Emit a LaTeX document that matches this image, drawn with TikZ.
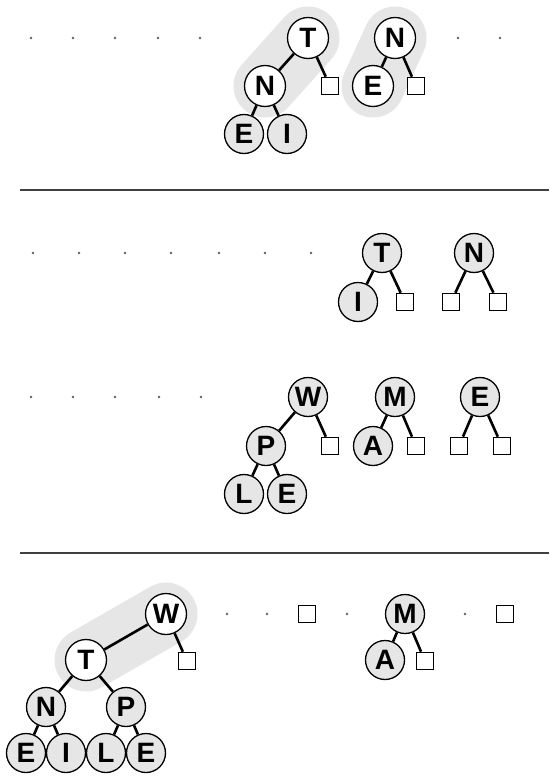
\documentclass[tikz,border=0pt]{standalone}
\usepackage{fontspec}
\setmainfont{Liberation Sans}
\usetikzlibrary{backgrounds}
\definecolor{halogray}{HTML}{E6E6E6}
\definecolor{rulegray}{HTML}{404040}
\definecolor{dotgray}{HTML}{606060}
\tikzset{
  wkey/.style={circle, draw, line width=1.3pt, fill=white, minimum size=41pt, inner sep=0pt,
    font=\fontsize{28}{28}\selectfont\bfseries},
  gkey/.style={wkey, fill=halogray, minimum size=39pt},
  leaf/.style={rectangle, draw, line width=1.6pt, fill=white, minimum size=17pt, inner sep=0pt},
  link/.style={line width=2.6pt},
  halo/.style={line width=63pt, line cap=round, halogray},
  sep/.style={line width=2pt, rulegray},
}

\begin{document}
\begin{tikzpicture}[x=1pt, y=-1pt]
  \useasboundingbox (0,0) rectangle (549,776);

  % first row
  \foreach \x in {31,73,115,158,200,458,500}
    \fill[dotgray] (\x,38) circle (1.3pt);
  \node[wkey] (Ta) at (308,38) {T};
  \node[wkey] (Na) at (265,86) {N};
  \node[gkey] (Ea) at (244,134) {E};
  \node[gkey] (Ia) at (287,134) {I};
  \node[leaf] (xa) at (330,86) {};
  \node[wkey] (Nb) at (395,38) {N};
  \node[wkey] (Eb) at (373,86) {E};
  \node[leaf] (xb) at (416,86) {};
  \draw[link] (Ta) -- (Na);
  \draw[link] (Ta) -- (xa);
  \draw[link] (Na) -- (Ea);
  \draw[link] (Na) -- (Ia);
  \draw[link] (Nb) -- (Eb);
  \draw[link] (Nb) -- (xb);
  \begin{scope}[on background layer]
    \draw[halo] (Ta.center) -- (Na.center);
    \draw[halo] (Nb.center) -- (Eb.center);
  \end{scope}

  \draw[sep] (20,190) -- (549,190);

  % second row
  \foreach \x in {33,79,125,171,219,265,311}
    \fill[dotgray] (\x,253) circle (1.3pt);
  \node[gkey] (Tc) at (382,253) {T};
  \node[gkey] (Ic) at (358,302) {I};
  \node[leaf] (xc) at (405,302) {};
  \node[gkey] (Nd) at (474,253) {N};
  \node[leaf] (xd1) at (451,302) {};
  \node[leaf] (xd2) at (498,302) {};
  \draw[link] (Tc) -- (Ic);
  \draw[link] (Tc) -- (xc);
  \draw[link] (Nd) -- (xd1);
  \draw[link] (Nd) -- (xd2);

  % third row
  \foreach \x in {31,73,115,159,201}
    \fill[dotgray] (\x,397) circle (1.3pt);
  \node[gkey] (We) at (308,397) {W};
  \node[gkey] (Pe) at (266,446) {P};
  \node[gkey] (Le) at (244,494) {L};
  \node[gkey] (Ee) at (287,494) {E};
  \node[leaf] (xe) at (330,446) {};
  \node[gkey] (Mf) at (395,397) {M};
  \node[gkey] (Af) at (373,446) {A};
  \node[leaf] (xf) at (416,446) {};
  \node[gkey] (Eg) at (480,397) {E};
  \node[leaf] (xg1) at (459,446) {};
  \node[leaf] (xg2) at (502,446) {};
  \draw[link] (We) -- (Pe);
  \draw[link] (We) -- (xe);
  \draw[link] (Pe) -- (Le);
  \draw[link] (Pe) -- (Ee);
  \draw[link] (Mf) -- (Af);
  \draw[link] (Mf) -- (xf);
  \draw[link] (Eg) -- (xg1);
  \draw[link] (Eg) -- (xg2);

  \draw[sep] (20,553) -- (549,553);

  % fourth row
  \foreach \x in {227,267,347,465}
    \fill[dotgray] (\x,614) circle (1.3pt);
  \node[wkey] (Wh) at (166,614) {W};
  \node[wkey] (Th) at (86,660) {T};
  \node[leaf] (xh) at (187,661) {};
  \node[gkey] (Nh) at (46,707) {N};
  \node[gkey] (Ph) at (126,707) {P};
  \node[gkey] (Eh) at (26,753) {E};
  \node[gkey] (Ih) at (66,753) {I};
  \node[gkey] (Lh) at (106,753) {L};
  \node[gkey] (Fh) at (146,753) {E};
  \node[leaf] (xs1) at (307,614) {};
  \node[gkey] (Mi) at (405,614) {M};
  \node[gkey] (Ai) at (385,660) {A};
  \node[leaf] (xi) at (425,661) {};
  \node[leaf] (xs2) at (505,614) {};
  \draw[link] (Wh) -- (Th);
  \draw[link] (Wh) -- (xh);
  \draw[link] (Th) -- (Nh);
  \draw[link] (Th) -- (Ph);
  \draw[link] (Nh) -- (Eh);
  \draw[link] (Nh) -- (Ih);
  \draw[link] (Ph) -- (Lh);
  \draw[link] (Ph) -- (Fh);
  \draw[link] (Mi) -- (Ai);
  \draw[link] (Mi) -- (xi);
  \begin{scope}[on background layer]
    \draw[halo] (Wh.center) -- (Th.center);
  \end{scope}
\end{tikzpicture}
\end{document}
